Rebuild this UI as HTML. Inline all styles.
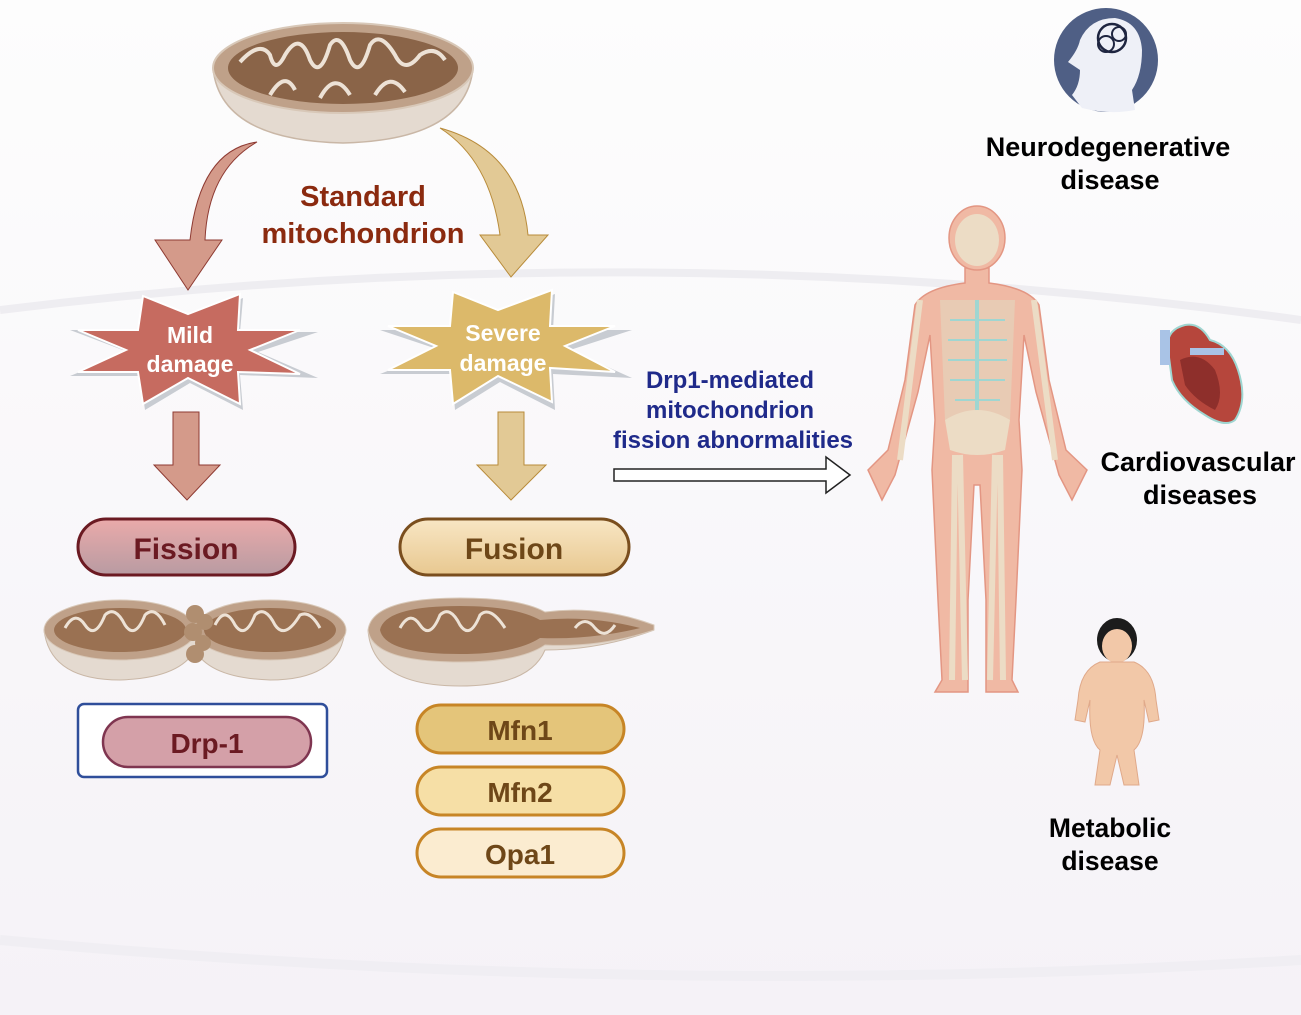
<!DOCTYPE html>
<html><head><meta charset="utf-8"><style>
html,body{margin:0;padding:0;background:#fbfafc;}
svg{display:block;}
text{font-family:"Liberation Sans",sans-serif;font-weight:bold;}
</style></head><body>
<svg width="1301" height="1015" viewBox="0 0 1301 1015" xmlns="http://www.w3.org/2000/svg">
<defs>
<linearGradient id="bg" x1="0" y1="0" x2="0" y2="1"><stop offset="0" stop-color="#fdfdfd"/><stop offset="1" stop-color="#f5f2f7"/></linearGradient>
<linearGradient id="fis" x1="0" y1="0" x2="0" y2="1"><stop offset="0" stop-color="#eaaaaa"/><stop offset="1" stop-color="#b89ba2"/></linearGradient>
<linearGradient id="fus" x1="0" y1="0" x2="0" y2="1"><stop offset="0" stop-color="#f8e6c4"/><stop offset="1" stop-color="#e8c890"/></linearGradient>
</defs>
<rect width="1301" height="1015" fill="url(#bg)"/>
<path d="M0,310 Q650,230 1301,320" stroke="#eeedf1" stroke-width="8" fill="none"/>
<path d="M0,940 Q650,1000 1301,960" stroke="#f0eef3" stroke-width="10" fill="none"/>

<!-- top mitochondrion -->
<path d="M213,68 Q220,140 343,143 Q466,140 473,68 Z" fill="#e4dad0" stroke="#c9b7a6" stroke-width="1.5"/>
<ellipse cx="343" cy="68" rx="130" ry="45" fill="#bfa189" stroke="#d8c8b8" stroke-width="2"/>
<ellipse cx="343" cy="68" rx="115" ry="36" fill="#8a6448"/>
<path d="M240,62 Q260,40 270,55 Q275,75 285,55 Q300,30 310,60 Q320,80 330,45 Q340,30 350,60 Q360,80 370,45 Q380,30 395,55 Q405,75 420,55 Q435,45 445,60" stroke="#ede2d6" stroke-width="4" fill="none"/>
<path d="M270,95 Q285,70 295,90 M320,98 Q335,70 350,95 M375,95 Q390,70 405,92" stroke="#ede2d6" stroke-width="4" fill="none"/>

<!-- curved arrows -->
<path d="M257,142 Q200,150 190,240 L172,240 L155,240 L188,290 L222,240 L205,240 Q208,170 257,142 Z" fill="#d49a8a" stroke="#8e3a32" stroke-width="1"/>
<path d="M440,128 Q520,150 528,235 L548,235 L511,277 L480,235 L500,235 Q490,160 440,128 Z" fill="#e2c995" stroke="#b88b3a" stroke-width="1"/>

<text x="363" y="206" font-size="29" fill="#8b2a0f" text-anchor="middle">Standard</text>
<text x="363" y="243" font-size="29" fill="#8b2a0f" text-anchor="middle">mitochondrion</text>

<!-- stars -->
<polygon points="145,300 190,318 243,298 240,332 318,332 258,352 318,378 240,375 243,410 190,383 145,410 140,376 70,376 128,352 70,330 140,330" fill="#c8ccd2"/>
<polygon points="143,296 188,314 240,294 238,330 300,330 250,350 300,374 238,372 240,404 188,378 143,404 138,372 78,372 126,350 78,330 138,330" fill="#c66b60" stroke="#fff" stroke-width="2"/>
<polygon points="455,296 500,314 555,294 553,330 632,330 570,350 632,378 553,374 555,410 500,382 455,410 452,374 380,374 440,350 380,330 452,330" fill="#c8ccd2"/>
<polygon points="453,292 498,310 552,290 550,326 615,326 565,346 615,372 550,368 552,402 498,376 453,404 450,370 388,370 436,346 388,326 450,326" fill="#dcb96a" stroke="#fff" stroke-width="2"/>
<text x="190" y="343" font-size="23" fill="#fff" text-anchor="middle">Mild</text>
<text x="190" y="372" font-size="23" fill="#fff" text-anchor="middle">damage</text>
<text x="503" y="341" font-size="23" fill="#fff" text-anchor="middle">Severe</text>
<text x="503" y="371" font-size="23" fill="#fff" text-anchor="middle">damage</text>

<!-- straight arrows -->
<polygon points="173,412 199,412 199,465 220,465 187,500 154,465 173,465" fill="#d49a8a" stroke="#8e3a32" stroke-width="1"/>
<polygon points="498,412 524,412 524,465 546,465 511,500 477,465 498,465" fill="#e2c995" stroke="#b88b3a" stroke-width="1"/>

<!-- pills -->
<rect x="78" y="519" width="217" height="56" rx="28" fill="url(#fis)" stroke="#6b1a22" stroke-width="3"/>
<text x="186" y="559" font-size="30" fill="#6b1a22" text-anchor="middle">Fission</text>
<rect x="400" y="519" width="229" height="56" rx="28" fill="url(#fus)" stroke="#7a4e1e" stroke-width="3"/>
<text x="514" y="559" font-size="30" fill="#6e4718" text-anchor="middle">Fusion</text>

<!-- fission mito -->
<path d="M44,630 Q50,680 120,680 Q180,678 195,650 Q210,678 270,680 Q340,680 345,630 Z" fill="#e4dad0" stroke="#c9b7a6"/>
<ellipse cx="120" cy="630" rx="76" ry="30" fill="#bfa189" stroke="#d8c8b8"/>
<ellipse cx="270" cy="630" rx="76" ry="30" fill="#bfa189" stroke="#d8c8b8"/>
<ellipse cx="120" cy="630" rx="66" ry="22" fill="#9a7152"/>
<ellipse cx="270" cy="630" rx="66" ry="22" fill="#9a7152"/>
<path d="M65,628 Q75,610 85,625 Q95,640 105,615 Q115,605 125,625 Q135,640 145,615 Q155,605 165,625 M215,625 Q225,605 235,625 Q245,640 255,615 Q265,605 275,625 Q285,640 300,615 Q310,610 320,628" stroke="#ede2d6" stroke-width="3" fill="none"/>
<circle cx="195" cy="614" r="9" fill="#b08e70"/><circle cx="205" cy="622" r="8" fill="#b08e70"/><circle cx="193" cy="632" r="9" fill="#b08e70"/><circle cx="203" cy="643" r="8" fill="#b08e70"/><circle cx="195" cy="654" r="9" fill="#b08e70"/>

<!-- fusion mito -->
<path d="M368,630 Q372,686 460,686 Q530,686 545,650 Q600,650 654,630 Z" fill="#e4dad0" stroke="#c9b7a6"/>
<path d="M368,630 Q372,598 460,598 Q520,598 545,612 Q600,605 654,625 L654,630 Q600,648 545,645 Q520,662 460,662 Q372,662 368,630 Z" fill="#bfa189" stroke="#d8c8b8"/>
<path d="M380,630 Q385,606 460,606 Q515,606 540,620 Q590,615 640,628 Q590,640 540,638 Q515,654 460,654 Q385,654 380,630 Z" fill="#9a7152"/>
<path d="M400,628 Q410,610 420,625 Q430,640 440,615 Q450,605 460,625 Q470,640 480,615 Q490,605 505,628 M575,628 Q585,615 595,628 Q605,640 615,625" stroke="#ede2d6" stroke-width="3" fill="none"/>

<!-- Drp-1 -->
<rect x="78" y="704" width="249" height="73" rx="6" fill="#fff" stroke="#2f4e9a" stroke-width="2.5"/>
<rect x="103" y="717" width="208" height="50" rx="25" fill="#d4a0a8" stroke="#7f3550" stroke-width="2.5"/>
<text x="207" y="753" font-size="28" fill="#6b1a22" text-anchor="middle">Drp-1</text>

<rect x="417" y="705" width="207" height="48" rx="24" fill="#e4c57a" stroke="#c78526" stroke-width="3"/>
<text x="520" y="740" font-size="28" fill="#6e4718" text-anchor="middle">Mfn1</text>
<rect x="417" y="767" width="207" height="48" rx="24" fill="#f6dfa6" stroke="#c78526" stroke-width="3"/>
<text x="520" y="802" font-size="28" fill="#6e4718" text-anchor="middle">Mfn2</text>
<rect x="417" y="829" width="207" height="48" rx="24" fill="#fbecd0" stroke="#c78526" stroke-width="3"/>
<text x="520" y="864" font-size="28" fill="#6e4718" text-anchor="middle">Opa1</text>

<!-- blue text & hollow arrow -->
<text x="730" y="388" font-size="24" fill="#1f2a8a" text-anchor="middle">Drp1-mediated</text>
<text x="730" y="418" font-size="24" fill="#1f2a8a" text-anchor="middle">mitochondrion</text>
<text x="733" y="448" font-size="24" fill="#1f2a8a" text-anchor="middle">fission abnormalities</text>
<polygon points="614,469 826,469 826,457 850,475 826,493 826,481 614,481" fill="#fff" stroke="#222" stroke-width="1.5"/>

<!-- neuro icon -->
<circle cx="1106" cy="60" r="52" fill="#4f5f85"/>
<path d="M1072,95 Q1080,85 1080,70 L1068,62 Q1078,50 1080,40 Q1090,18 1115,18 Q1140,22 1142,50 Q1142,75 1132,90 L1135,110 Q1110,115 1082,108 Z" fill="#eef0f7"/>
<circle cx="1112" cy="38" r="14" fill="none" stroke="#1e2540" stroke-width="2.5"/>
<circle cx="1106" cy="44" r="8" fill="none" stroke="#1e2540" stroke-width="2"/>
<circle cx="1119" cy="34" r="7" fill="none" stroke="#1e2540" stroke-width="2"/>
<text x="1108" y="156" font-size="27" fill="#000" text-anchor="middle">Neurodegenerative</text>
<text x="1110" y="189" font-size="27" fill="#000" text-anchor="middle">disease</text>

<!-- body -->
<path d="M965,268 L965,283 Q925,288 915,305 L905,380 L888,450 L868,470 L882,500 L895,475 L918,392 L930,335 L935,420 L932,470 L938,600 L942,680 L935,692 L968,692 L968,600 L974,485 L980,485 L986,600 L986,692 L1018,692 L1012,680 L1016,600 L1022,470 L1019,420 L1024,335 L1036,392 L1059,475 L1072,500 L1087,470 L1066,450 L1049,380 L1039,305 Q1029,288 989,283 L989,268 Z" fill="#f0b9a4" stroke="#e39683" stroke-width="1.5"/>
<ellipse cx="977" cy="238" rx="28" ry="32" fill="#f0b9a4" stroke="#e39683" stroke-width="1.5"/>
<ellipse cx="977" cy="240" rx="22" ry="26" fill="#ecdcc5"/>
<path d="M940,300 L1015,300 L1010,420 L945,420 Z" fill="#e6d0b8" opacity="0.8"/>
<path d="M950,320 H1005 M948,340 H1007 M948,360 H1007 M950,380 H1005 M955,400 H1000" stroke="#9fd6d1" stroke-width="2"/>
<path d="M977,300 V440" stroke="#9fd6d1" stroke-width="4"/>
<path d="M945,420 Q977,400 1010,420 L1005,450 Q977,460 950,450 Z" fill="#ecdcc5"/>
<path d="M920,300 L900,460 M1034,300 L1055,460 M955,455 L952,680 M1000,455 L1003,680 M960,455 L965,680 M995,455 L990,680" stroke="#ecdcc5" stroke-width="6" fill="none"/>

<!-- heart -->
<path d="M1168,350 Q1165,330 1185,325 Q1200,322 1210,340 Q1230,345 1238,370 Q1248,400 1235,420 Q1225,428 1205,415 Q1180,400 1172,380 Z" fill="#b6463c" stroke="#9fd6d1" stroke-width="2"/>
<path d="M1180,360 Q1200,350 1215,370 Q1225,395 1215,410 Q1195,400 1185,385 Z" fill="#8e2f2b"/>
<rect x="1160" y="330" width="10" height="35" fill="#a9c3e6"/>
<rect x="1190" y="348" width="34" height="7" fill="#a9c3e6"/>
<text x="1198" y="471" font-size="27" fill="#000" text-anchor="middle">Cardiovascular</text>
<text x="1200" y="504" font-size="27" fill="#000" text-anchor="middle">diseases</text>

<!-- obese person -->
<ellipse cx="1117" cy="640" rx="20" ry="22" fill="#1c1c1c"/>
<ellipse cx="1117" cy="646" rx="15" ry="17" fill="#f2c8a8"/>
<path d="M1100,662 Q1080,670 1078,700 L1075,720 L1085,722 L1090,700 Q1088,740 1100,750 L1095,785 L1110,785 L1117,755 L1124,785 L1139,785 L1134,750 Q1146,740 1144,700 L1149,722 L1159,720 L1156,700 Q1154,670 1134,662 Z" fill="#f2c8a8" stroke="#e0a98a" stroke-width="1"/>
<text x="1110" y="837" font-size="26.5" fill="#000" text-anchor="middle">Metabolic</text>
<text x="1110" y="870" font-size="26.5" fill="#000" text-anchor="middle">disease</text>
</svg>
</body></html>
